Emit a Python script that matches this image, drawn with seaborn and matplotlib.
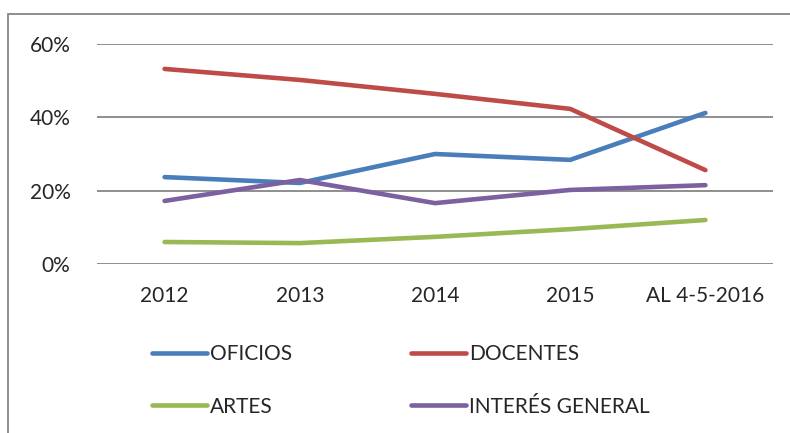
import pandas as pd
import seaborn as sns
import matplotlib.pyplot as plt
from matplotlib.patches import Rectangle
from matplotlib.ticker import PercentFormatter

# Data (percent)
periods = ["2012", "2013", "2014", "2015", "AL 4-5-2016"]
oficios = [23.7, 22.1, 30.0, 28.4, 41.2]
docentes = [53.2, 50.2, 46.4, 42.3, 25.6]
artes = [6.0, 5.7, 7.4, 9.5, 12.0]
interes = [17.2, 22.9, 16.6, 20.2, 21.5]

series = {
    "OFICIOS": oficios,
    "DOCENTES": docentes,
    "ARTES": artes,
    "INTERÉS GENERAL": interes,
}
colors = ["#4A7EBB", "#BE4B48", "#98B954", "#7D60A0"]

rows = []
for name, vals in series.items():
    for p, v in zip(periods, vals):
        rows.append({"Periodo": p, "Valor": v, "Serie": name})
df = pd.DataFrame(rows)

sns.set_style("white")
plt.rcParams["font.family"] = ["Lato", "DejaVu Sans"]

fig = plt.figure(figsize=(7.9, 4.33), dpi=100)
ax = fig.add_axes([0.1228, 0.3903, 0.8557, 0.5081])

sns.lineplot(data=df, x="Periodo", y="Valor", hue="Serie",
             palette=colors, linewidth=3.3, ax=ax, sort=False,
             solid_capstyle="round", legend=False)

ax.set_xlim(-0.5, 4.5)
ax.set_ylim(0, 60)
ax.set_yticks([0, 20, 40, 60])
ax.yaxis.set_major_formatter(PercentFormatter(decimals=0))
ax.grid(axis="y", color="#868686", linewidth=1.3)
ax.set_axisbelow(True)
for s in ax.spines.values():
    s.set_visible(False)
ax.tick_params(axis="both", length=0, labelsize=15)
ax.tick_params(axis="x", pad=16)
ax.tick_params(axis="y", pad=19)
ax.set_xlabel("")
ax.set_ylabel("")

# legend
handles = [plt.Line2D([], [], color=c, linewidth=3.3, solid_capstyle="round")
           for c in colors]
labels = list(series.keys())
order = [0, 2, 1, 3]
fig.legend([handles[i] for i in order], [labels[i] for i in order],
           loc="upper left", bbox_to_anchor=(0.192, 0.205), ncol=2,
           frameon=False, fontsize=15, handlelength=2.65, handletextpad=0.15,
           labelspacing=1.55, columnspacing=5.7, borderpad=0, borderaxespad=0)

# outer chart border
fig.patches.append(Rectangle((8 / 790, -0.05), 1.0, 1 - 14 / 433 + 0.05,
                             transform=fig.transFigure, fill=False,
                             edgecolor="#868686", linewidth=1.3))

fig.savefig("out.png", dpi=100)
